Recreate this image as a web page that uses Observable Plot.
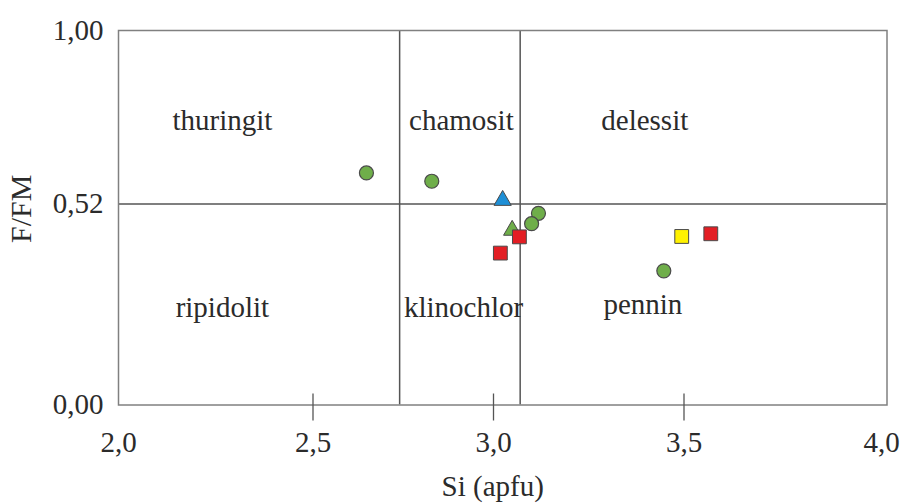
<!DOCTYPE html>
<html><head><meta charset="utf-8">
<script src="https://cdn.jsdelivr.net/npm/d3@7"></script>
<script src="https://cdn.jsdelivr.net/npm/@observablehq/plot@0.6"></script>
<style>body{margin:0;background:#fff}</style>
</head><body><div id="chart"></div>
<script>
// Axis ticks
const xTicks = [2.0, 2.5, 3.0, 3.5, 4.0];
const xInnerTicks = [2.5, 3.0, 3.5];
const yTicks = [0, 0.52, 1];
// Field boundaries
const siBoundaries = [2.74, 3.07];
const ffmBoundaries = [0.52];
// Field names
const fieldNames = ["thuringit", "chamosit", "delessit", "ripidolit", "klinochlor", "pennin"];
const fieldSi =    [2.267, 2.911, 3.397, 2.267, 2.917, 3.392];
const fieldFFM =   [0.751, 0.751, 0.751, 0.251, 0.251, 0.260];
// Samples
const circleGreenSi  = [2.648, 2.829, 3.118, 3.100, 3.447];
const circleGreenFFM = [0.606, 0.583, 0.496, 0.469, 0.347];
const triangleGreenSi  = [3.049];
const triangleGreenFFM = [0.452];
const triangleBlueSi  = [3.024];
const triangleBlueFFM = [0.530];
const squareRedSi  = [3.068, 3.018, 3.566];
const squareRedFFM = [0.435, 0.393, 0.443];
const squareYellowSi  = [3.494];
const squareYellowFFM = [0.436];

const pts = (si, ffm) => si.map((s, i) => ({si: s, ffm: ffm[i]}));
const fields = fieldNames.map((n, i) => ({name: n, si: fieldSi[i], ffm: fieldFFM[i]}));

const font = "Liberation Serif, Times New Roman, serif";
const txt = "#2b2b2b";
const ptStroke = "#4a4a4a";
const fmtX = d => d.toFixed(1).replace(".", ",");

const chart = Plot.plot({
  width: 903,
  height: 503,
  marginLeft: 118,
  marginRight: 16.5,
  marginTop: 30,
  marginBottom: 98.5,
  style: {fontFamily: font, fontSize: "29px", background: "#fff", color: txt},
  x: {type: "linear", domain: xTicks, range: [118, 312.5, 493, 683.5, 886.5]},
  y: {type: "linear", domain: [0, 0.52, 1], range: [404.5, 203.5, 30]},
  marks: [
    Plot.ruleX(siBoundaries, {stroke: "#555", strokeWidth: 1.5}),
    Plot.ruleY(ffmBoundaries, {stroke: "#555", strokeWidth: 1.5}),
    Plot.frame({stroke: "#808080", strokeWidth: 1.5}),
    Plot.ruleX(xInnerTicks, {y1: 0, y2: 0, insetTop: -11, insetBottom: -16, stroke: "#555", strokeWidth: 1.3}),
    Plot.axisX({ticks: xTicks.slice(0, -1), tickSize: 0, tickPadding: 26, tickFormat: fmtX, fontSize: 29, fill: txt, label: null}),
    Plot.axisX({ticks: xTicks.slice(-1), tickSize: 0, tickPadding: 26, tickFormat: fmtX, fontSize: 29, fill: txt, label: null, dx: -5.5}),
    Plot.axisY({ticks: yTicks, tickSize: 0, tickPadding: 15, tickFormat: d => d.toFixed(2).replace(".", ","), fontSize: 29, fill: txt, label: null}),
    Plot.text(["Si (apfu)"], {frameAnchor: "bottom", dx: -10, dy: 91, lineAnchor: "bottom", fontSize: 29, fill: txt}),
    Plot.text(["F/FM"], {frameAnchor: "left", textAnchor: "middle", dx: -97, dy: -9, rotate: -90, fontSize: 30, fill: txt}),
    Plot.text(fields, {x: "si", y: "ffm", text: "name", fontSize: 29, fill: txt}),
    Plot.dot(pts(circleGreenSi, circleGreenFFM), {x: "si", y: "ffm", symbol: "circle", r: 7, fill: "#6fae4a", stroke: ptStroke, strokeWidth: 1.2}),
    Plot.dot(pts(triangleBlueSi, triangleBlueFFM), {x: "si", y: "ffm", symbol: "triangle", r: 6.4, fill: "#1e8fd6", stroke: ptStroke, strokeWidth: 1}),
    Plot.dot(pts(triangleGreenSi, triangleGreenFFM), {x: "si", y: "ffm", symbol: "triangle", r: 6.4, fill: "#6fae4a", stroke: ptStroke, strokeWidth: 1}),
    Plot.dot(pts(squareRedSi, squareRedFFM), {x: "si", y: "ffm", symbol: "square", r: 7.8, fill: "#e31e24", stroke: ptStroke, strokeWidth: 1}),
    Plot.dot(pts(squareYellowSi, squareYellowFFM), {x: "si", y: "ffm", symbol: "square", r: 7.8, fill: "#fff200", stroke: ptStroke, strokeWidth: 1})
  ]
});
document.getElementById("chart").appendChild(chart);
</script>
</body></html>
